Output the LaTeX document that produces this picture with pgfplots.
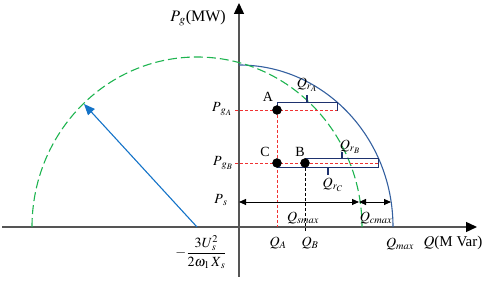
\documentclass[border=0pt]{standalone}
\usepackage{mathptmx}
\usepackage{fontspec}
\setmainfont{Liberation Serif}
\usepackage{pgfplots}
\pgfplotsset{compat=1.18}
\usetikzlibrary{arrows.meta}
\definecolor{arcblue}{RGB}{52,96,160}
\definecolor{arrowblue}{RGB}{20,115,200}
\definecolor{circgreen}{RGB}{30,180,80}
\definecolor{guidered}{RGB}{240,50,50}
\definecolor{navy}{RGB}{30,50,110}
\definecolor{axgray}{RGB}{85,85,85}
\begin{document}
\begin{tikzpicture}[lbl/.style={font=\fontsize{14}{16}\selectfont, inner sep=0.5pt}]
\begin{axis}[scale only axis, width=491pt, height=281pt,
  xmin=-239, xmax=252, ymin=-54, ymax=227, hide axis, clip=false, no markers]
\path (axis cs:-239,-54) rectangle (axis cs:252,227);
% axes
\addplot[axgray, line width=1.4pt, -{Triangle[length=11pt,width=10pt,color=black]}] coordinates {(-237,0) (238,0)};
\addplot[axgray, line width=1.4pt, -{Triangle[length=11pt,width=10pt,color=black]}] coordinates {(0,-50) (0,224)};
% arcs
\draw[arcblue, line width=1.1pt] (axis cs:0,162) arc[start angle=90, end angle=0, x radius=154, y radius=162];
\draw[circgreen, line width=1.1pt, dash pattern=on 9pt off 4pt] (axis cs:-207,0) arc[start angle=180, end angle=0, x radius=165, y radius=170];
% radius arrow
\addplot[arrowblue, line width=1.1pt, -{Triangle[length=11pt,width=9pt]}] coordinates {(-42,0) (-155,123)};
% red guides
\addplot[guidered, line width=0.9pt, dash pattern=on 3pt off 2pt] coordinates {(-4,117) (98,117)};
\addplot[guidered, line width=0.9pt, dash pattern=on 3pt off 2pt] coordinates {(38,117) (38,0)};
\addplot[guidered, line width=0.9pt, dash pattern=on 3pt off 2pt] coordinates {(-4,64) (139,64)};
% black dashed
\addplot[black, line width=0.7pt, dash pattern=on 3pt off 2pt] coordinates {(66,64) (66,-4)};
% bracket A
\addplot[navy, line width=1pt] coordinates {(38,117) (38,124) (98,124) (98,116)};
\addplot[navy, line width=1.2pt] coordinates {(68,124) (68,132)};
% bracket B/C
\addplot[navy, line width=1pt] coordinates {(66,68) (139,68) (139,59) (38,59) (38,64)};
\addplot[navy, line width=1.2pt] coordinates {(103,68) (103,75)};
\addplot[navy, line width=1.2pt] coordinates {(89,59) (89,52)};
% double arrows
\addplot[black, line width=0.9pt, {Triangle[length=7pt,width=6pt]}-{Triangle[length=7pt,width=6pt]}] coordinates {(0,25) (120,25)};
\addplot[black, line width=0.9pt, {Triangle[length=7pt,width=6pt]}-{Triangle[length=7pt,width=6pt]}] coordinates {(120,25) (152,25)};
% points
\addplot[only marks, mark=*, mark size=4.5pt, black] coordinates {(38,117) (38,64) (66,64)};
% labels
\node[lbl, font=\fontsize{16}{18}\selectfont] at (axis cs:-41,209) {$P_{\mkern2mu g}$(MW)};
\node[lbl] at (axis cs:29,130) {A};
\node[lbl] at (axis cs:61,75) {B};
\node[lbl] at (axis cs:26,75) {C};
\node[lbl] at (axis cs:68,142) {$Q_{r_A}$};
\node[lbl] at (axis cs:111,80) {$Q_{r_B}$};
\node[lbl] at (axis cs:94,42) {$Q_{r_C}$};
\node[lbl] at (axis cs:-17,118) {$P_{\mkern3mu g_A}$};
\node[lbl] at (axis cs:-16,64) {$P_{\mkern3mu g_B}$};
\node[lbl] at (axis cs:-18,27) {$P_{\mkern3mu s}$};
\node[lbl] at (axis cs:64,9) {$Q_{smax}$};
\node[lbl] at (axis cs:137,9) {$Q_{cmax}$};
\node[lbl] at (axis cs:39,-16) {$Q_A$};
\node[lbl] at (axis cs:71,-16) {$Q_B$};
\node[lbl] at (axis cs:161,-17) {$Q_{max}$};
\node[lbl, font=\fontsize{15}{17}\selectfont] at (axis cs:214,-16) {$Q$(M Var)};
\node[lbl] at (axis cs:-38,-25) {$-\displaystyle\frac{3U^{2}_{\mkern2mu s}}{2\omega_1\mkern2mu X_{\mkern2mu s}}$};
\end{axis}
\end{tikzpicture}
\end{document}
